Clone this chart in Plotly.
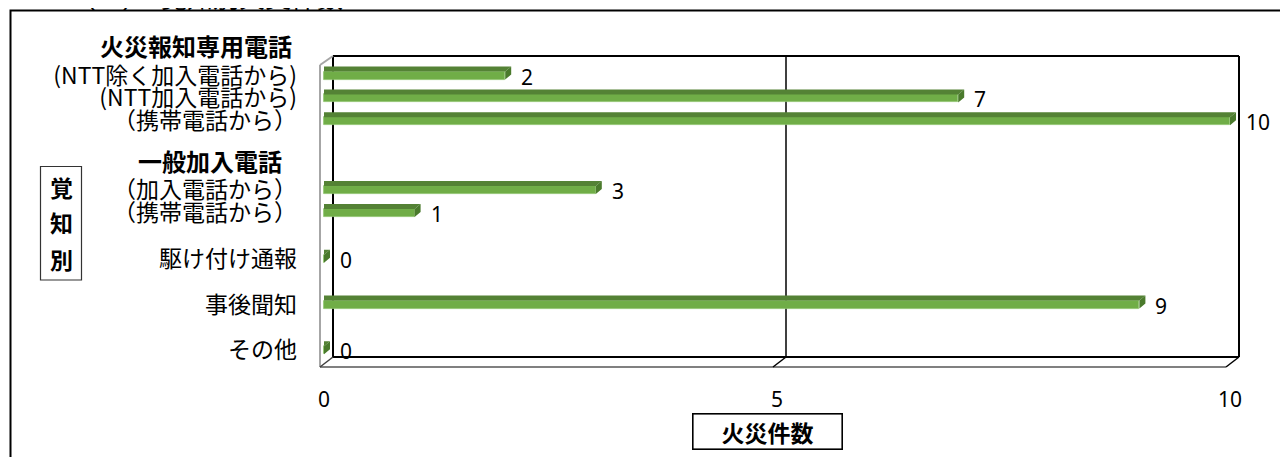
import plotly.graph_objects as go

# ---------------- data ----------------
categories = ["(NTT除く加入電話から)", "(NTT加入電話から)", "（携帯電話から）",
              "（加入電話から）", "（携帯電話から）",
              "駆け付け通報", "事後聞知", "その他"]
values = [2, 7, 10, 3, 1, 0, 9, 0]
group_headers = ["火災報知専用電話", "一般加入電話"]
x_ticks = [0, 5, 10]
axis_title = "火災件数"
side_title = ["覚", "知", "別"]
page_title = "（２）　覚知別火災件数"

# ---------------- layout helpers (positions/styles) ----------------
row_slots = [1, 2, 3, 6, 7, 9, 11, 13]   # vertical slot of each category row
W, H = 1288, 457
OFF = 8                                   # page body margin
L, R, T, B = 318, 1252, 50, 372           # plot area in reference pixels
PX0, PXU = 324.0, 90.6                    # px of value 0, px per unit
PY1, PYU = 75.5, 22.9                     # px of slot 1, px per slot

def X(px):
    return (px - PX0) / PXU

def Y(py):
    return 1 + (py - PY1) / PYU

def PX(px):
    return (px - L) / (R - L)

def PY(py):
    return (B - py) / (B - T)

JP = "Noto Sans CJK JP"
NUM = "Noto Sans"
GREEN = "#70AD47"
GREEN_TOP = "#548235"
GREEN_END = "#4A7A2C"

hh = 4.0 / PYU          # half height of front face
ddx = 6.0 / PXU         # depth offset x
ddy = 5.0 / PYU         # depth offset y

fig = go.Figure()

# front faces
fig.add_trace(go.Bar(
    x=values, y=row_slots, orientation="h", width=2 * hh,
    marker=dict(color=GREEN, line=dict(color="#8DC26B", width=0.8)),
    hoverinfo="skip", showlegend=False,
))

# top faces and end faces (3D effect)
tx, ty, ex, ey = [], [], [], []
for v, s in zip(values, row_slots):
    top, bot = s - hh, s + hh
    tx += [0, v, v + ddx, 0, 0, None]
    ty += [top, top, top - ddy, top - ddy, top, None]
    ex += [v, v, v + ddx, v + ddx, v, None]
    ey += [top, bot, bot - ddy, top - ddy, top, None]
fig.add_trace(go.Scatter(x=tx, y=ty, mode="lines", fill="toself",
                         fillcolor=GREEN_TOP, line=dict(width=0),
                         hoverinfo="skip", showlegend=False))
fig.add_trace(go.Scatter(x=ex, y=ey, mode="lines", fill="toself",
                         fillcolor=GREEN_END, line=dict(width=0),
                         hoverinfo="skip", showlegend=False))

# ---------------- 3D frame ----------------
db = (333 - PX0) / PXU     # back plane offset
df = (320 - PX0) / PXU     # front plane offset
yb_top, yb_bot = Y(56), Y(357)
yf_top, yf_bot = Y(65), Y(367)
shapes = []

def seg(x0, y0, x1, y1, color, width):
    shapes.append(dict(type="line", xref="x", yref="y", x0=x0, y0=y0, x1=x1, y1=y1,
                       line=dict(color=color, width=width), layer="below"))

# back wall
seg(0 + db, yb_top, 10 + db, yb_top, "#000000", 2)
seg(0 + db, yb_top, 0 + db, yb_bot, "#000000", 2)
seg(10 + db, yb_top, 10 + db, yb_bot, "#000000", 2)
seg(0 + db, yb_bot, 10 + db, yb_bot, "#000000", 2)
seg(5 + db, yb_top, 5 + db, yb_bot, "#000000", 1.5)
# side wall (gray)
seg(0 + df, yf_top, 0 + df, yf_bot, "#A6A6A6", 2)
seg(0 + df, yf_top, 0 + db, yb_top, "#A6A6A6", 2)
# floor
seg(0 + df, yf_bot, 10 + df, yf_bot, "#808080", 2)
seg(0 + df, yf_bot, 0 + db, yb_bot, "#404040", 1.5)
seg(5 + df, yf_bot, 5 + db, yb_bot, "#000000", 1.5)
seg(10 + df, yf_bot, 10 + db, yb_bot, "#000000", 1.5)

# outer border
shapes.append(dict(type="rect", xref="paper", yref="paper",
                   x0=PX(10.5), y0=PY(480), x1=PX(1320), y1=PY(10.5),
                   line=dict(color="#000000", width=2), layer="below"))
# side title box
shapes.append(dict(type="rect", xref="paper", yref="paper",
                   x0=PX(40.5), y0=PY(280), x1=PX(81.5), y1=PY(166.5),
                   line=dict(color="#333333", width=1.2), layer="below"))

annotations = []
# value labels
for v, s in zip(values, row_slots):
    annotations.append(dict(x=v, y=s, xref="x", yref="y", text=str(v),
                            xanchor="left", yanchor="middle", xshift=14, yshift=-1,
                            showarrow=False, font=dict(family=NUM, size=21, color="#000")))
# group headers
annotations.append(dict(x=PX(294), y=PY(45), xref="paper", yref="paper",
                        text="<b>" + group_headers[0] + "</b>", xanchor="right",
                        yanchor="middle", showarrow=False,
                        font=dict(family=JP, size=24, color="#000")))
annotations.append(dict(x=PX(284), y=PY(160), xref="paper", yref="paper",
                        text="<b>" + group_headers[1] + "</b>", xanchor="right",
                        yanchor="middle", showarrow=False,
                        font=dict(family=JP, size=24, color="#000")))
# side title chars
for ch, py in zip(side_title, [187, 222, 259]):
    annotations.append(dict(x=PX(61), y=PY(py), xref="paper", yref="paper",
                            text="<b>" + ch + "</b>", xanchor="center", yanchor="middle",
                            showarrow=False, font=dict(family=JP, size=23, color="#000")))
# x axis title box
annotations.append(dict(x=PX(767.5), y=PY(431.5), xref="paper", yref="paper",
                        text="<b>" + axis_title + "</b>", xanchor="center", yanchor="middle",
                        showarrow=False, width=146, height=32, borderwidth=1.6,
                        bordercolor="#000", borderpad=1,
                        font=dict(family=JP, size=23, color="#000")))
# page title (cut off at top)
annotations.append(dict(x=PX(68), y=PY(-4), xref="paper", yref="paper",
                        text=page_title, xanchor="left", yanchor="middle",
                        showarrow=False, font=dict(family=JP, size=26, color="#000")))

fig.update_layout(
    width=W, height=H,
    margin=dict(l=L - OFF, r=W - (R - OFF), t=T - OFF, b=H - (B - OFF), pad=0),
    paper_bgcolor="white", plot_bgcolor="rgba(0,0,0,0)",
    shapes=shapes, annotations=annotations,
    bargap=0, showlegend=False,
    xaxis=dict(range=[X(L), X(R)], tickvals=x_ticks, ticktext=[str(t) for t in x_ticks],
               showgrid=False, zeroline=False, showline=False, ticks="",
               ticklabelstandoff=13,
               tickfont=dict(family=NUM, size=21, color="#000")),
    yaxis=dict(range=[Y(B), Y(T)], tickvals=row_slots, ticktext=categories,
               showgrid=False, zeroline=False, showline=False, ticks="",
               ticklabelstandoff=20,
               tickfont=dict(family=JP, size=23, color="#000")),
)

fig.write_html("out.html")
